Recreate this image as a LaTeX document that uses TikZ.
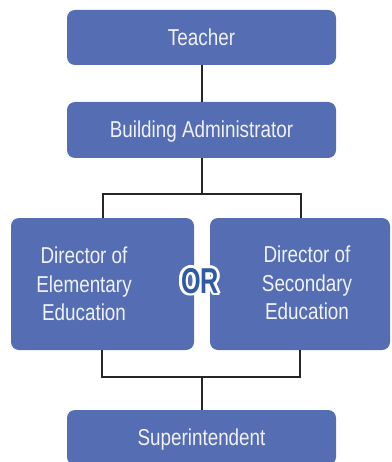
\documentclass[tikz,border=0pt]{standalone}
\usepackage{fontspec}
\usetikzlibrary{calc}
\setmainfont{Liberation Sans}[FakeStretch=0.82]
\newfontfamily\orfont{Liberation Sans}[FakeStretch=0.70]
\definecolor{boxblue}{HTML}{546DB3}
\definecolor{orblue}{HTML}{2F5AA6}
\definecolor{txt}{HTML}{F0F1FA}
\definecolor{linec}{HTML}{262626}
\tikzset{
  box/.style={rectangle, rounded corners=8pt, fill=boxblue, inner sep=0pt},
  lbl/.style={text=txt, align=center, font=\fontsize{23}{28.5}\selectfont, inner sep=0pt},
  conn/.style={draw=linec, line width=2pt},
  ortext/.style={font=\orfont\bfseries\fontsize{36}{36}\selectfont, inner sep=0pt},
}
\begin{document}
\begin{tikzpicture}[x=1pt,y=-1pt]
\useasboundingbox (0,0) rectangle (391,462);
\node[box, minimum width=269pt, minimum height=55pt] (teacher) at (201.5,37.5) {};
\node[lbl, anchor=base] (teachert) at (201.5,46) {Teacher};
\node[box, minimum width=269pt, minimum height=56pt] (admin) at (201.5,130) {};
\node[lbl, anchor=base] (admint) at (201.5,138) {Building Administrator};
\node[box, minimum width=183pt, minimum height=132pt] (left) at (102.5,284) {};
\node[lbl] (leftt) at (84,284) {Director of\\Elementary\\Education};
\node[box, minimum width=180pt, minimum height=132pt] (right) at (300,284) {};
\node[lbl] (rightt) at (307,283) {Director of\\Secondary\\Education};
\node[box, minimum width=269pt, minimum height=55pt] (super) at (201.5,437.5) {};
\node[lbl, anchor=base] (supert) at (201.5,445) {Superintendent};
% OR
\foreach \a in {0,30,...,330}{
  \node[ortext, text=white] at ($(200,281)+(\a:2.6)$) {OR};
}
\node[ortext, text=orblue] (or) at (200,281) {OR};
% connectors
\coordinate (split) at (201.5,194);
\coordinate (sl) at (103,194);
\coordinate (sr) at (301,194);
\coordinate (jl) at (102,377);
\coordinate (jr) at (300,377);
\coordinate (join) at (201.5,377);
\draw[conn] (teacher.south) -- (admin.north);
\draw[conn] (admin.south) -- (split);
\draw[conn] (sl |- left.north) -- (sl) -- (sr) -- (sr |- right.north);
\draw[conn] (jl |- left.south) -- (jl) -- (jr) -- (jr |- right.south);
\draw[conn] (join) -- (super.north);
\end{tikzpicture}
\end{document}
